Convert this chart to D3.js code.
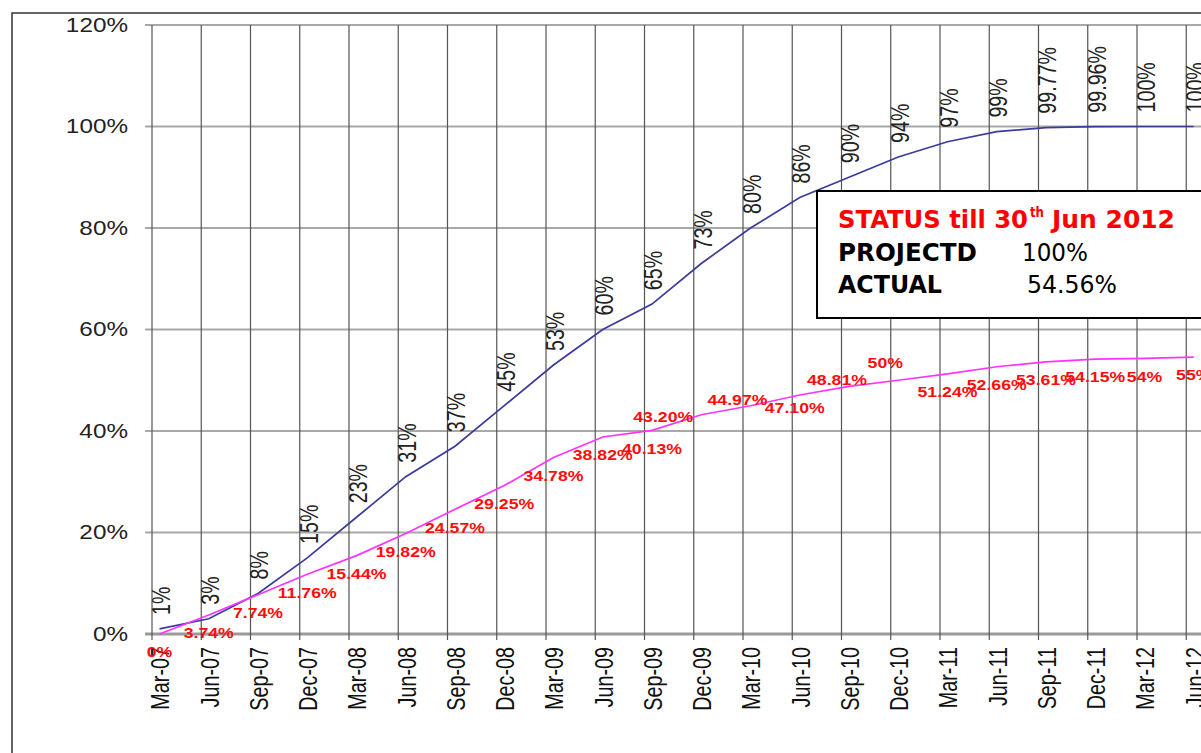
<!DOCTYPE html>
<html>
<head>
<meta charset="utf-8">
<script src="https://cdn.jsdelivr.net/npm/d3@7/dist/d3.min.js"></script>
<style>
  html, body { margin: 0; padding: 0; background: #fff; }
  svg { display: block; }
</style>
</head>
<body>
<svg id="chart" width="1201" height="753"></svg>
<script>
// ---------------- data ----------------
const categories = ["Mar-07","Jun-07","Sep-07","Dec-07","Mar-08","Jun-08","Sep-08","Dec-08",
  "Mar-09","Jun-09","Sep-09","Dec-09","Mar-10","Jun-10","Sep-10","Dec-10",
  "Mar-11","Jun-11","Sep-11","Dec-11","Mar-12","Jun-12"];
const projected = [0.01,0.03,0.08,0.15,0.23,0.31,0.37,0.45,0.53,0.60,0.65,0.73,0.80,0.86,0.90,0.94,
  0.97,0.99,0.9977,0.9996,1.00,1.00];
const projectedLabels = ["1%","3%","8%","15%","23%","31%","37%","45%","53%","60%","65%","73%","80%",
  "86%","90%","94%","97%","99%","99.77%","99.96%","100%","100%"];
const actual = [0,0.0374,0.0774,0.1176,0.1544,0.1982,0.2457,0.2925,0.3478,0.3882,0.4013,0.4320,
  0.4497,0.4710,0.4881,0.50,0.5124,0.5266,0.5361,0.5415,0.543,0.5456];
const actualLabels = ["0%","3.74%","7.74%","11.76%","15.44%","19.82%","24.57%","29.25%","34.78%",
  "38.82%","40.13%","43.20%","44.97%","47.10%","48.81%","50%","51.24%","52.66%","53.61%","54.15%",
  "54%","55%"];
const yTicks = [0,0.2,0.4,0.6,0.8,1.0,1.2];
const statusTitle = ["STATUS till 30", "th", "Jun 2012"];
const statusRows = [["PROJECTD","100%"],["ACTUAL","54.56%"]];

// ---------------- layout ----------------
const svg = d3.select("#chart");
const x = d3.scalePoint().domain(categories).range([159.5, 159.5 + 21 * 49.25]);
const y = d3.scaleLinear().domain([0, 1.2]).range([634, 25]);
const gridOffset = -7.5;
const SX = 1.24;   // horizontal glyph stretch (horizontal text)
const SXR = 1.32;  // horizontal glyph stretch (rotated text)

// label nudges for the "actual" series (default: centred below the point)
const actualNudge = {11: [-38, 2], 12: [-13, -6], 13: [-5, 13], 14: [-12, -7], 15: [-13, -17]};

// outer chart border
svg.append("rect").attr("x", 12).attr("y", 13).attr("width", 1400).attr("height", 900)
  .attr("fill", "#fff").attr("stroke", "#333").attr("stroke-width", 1.5);

// horizontal gridlines
svg.append("g").selectAll("line").data(yTicks).join("line")
  .attr("x1", 145).attr("x2", 1230)
  .attr("y1", d => y(d)).attr("y2", d => y(d))
  .attr("stroke", d => d === 0 ? "#9a9a9a" : "#a8a8a8")
  .attr("stroke-width", d => d === 0 ? 3 : 2);

// vertical gridlines
svg.append("g").selectAll("line").data(categories).join("line")
  .attr("x1", d => x(d) + gridOffset).attr("x2", d => x(d) + gridOffset)
  .attr("y1", y(1.2)).attr("y2", 640)
  .attr("stroke", "#555").attr("stroke-width", 1.2);

// y axis
const yAxis = svg.append("g").attr("transform", "translate(128,0)")
  .call(d3.axisLeft(y).tickValues(yTicks).tickFormat(d3.format(".0%")).tickSize(0).tickPadding(0));
yAxis.select(".domain").remove();
yAxis.selectAll("text")
  .attr("font-family", "Liberation Sans, Arial, sans-serif")
  .attr("font-size", 19.6).attr("fill", "#222").attr("dy", "0.33em")
  .attr("transform", `scale(${SX},1)`);

// x axis
const xAxis = svg.append("g").attr("transform", "translate(0,647)")
  .call(d3.axisBottom(x).tickSize(0).tickPadding(0));
xAxis.select(".domain").remove();
xAxis.selectAll("text")
  .attr("font-family", "Liberation Sans, Arial, sans-serif")
  .attr("font-size", 19.8).attr("fill", "#111")
  .attr("text-anchor", "end").attr("x", 0).attr("y", 0).attr("dy", "0.36em")
  .attr("transform", `scale(${SXR},1) rotate(-90)`);

// lines
const line = d3.line().x((d, i) => x(categories[i])).y(d => y(d));
svg.append("path").datum(projected).attr("d", line)
  .attr("fill", "none").attr("stroke", "#3b3b9c").attr("stroke-width", 1.7);
svg.append("path").datum(actual).attr("d", line)
  .attr("fill", "none").attr("stroke", "#ff33ff").attr("stroke-width", 1.7);

// projected labels (rotated, above the points)
svg.append("g").selectAll("text").data(projected).join("text")
  .attr("transform", (d, i) => `translate(${x(categories[i]) + 1},${y(d) - 14}) scale(${SXR},1) rotate(-90)`)
  .attr("dy", "0.36em").attr("text-anchor", "start")
  .attr("font-family", "Liberation Sans, Arial, sans-serif").attr("font-size", 19.7).attr("fill", "#222")
  .text((d, i) => projectedLabels[i]);

// actual labels (red, bold)
svg.append("g").selectAll("text").data(actual).join("text")
  .attr("transform", (d, i) => {
    const n = actualNudge[i] || [0, 18];
    return `translate(${x(categories[i]) + n[0]},${y(d) + n[1]}) scale(1.22,1)`;
  })
  .attr("dy", "0.36em").attr("text-anchor", "middle")
  .attr("font-family", "Liberation Sans, Arial, sans-serif").attr("font-weight", "bold")
  .attr("font-size", 14.5).attr("fill", "#ff0d0d")
  .text((d, i) => actualLabels[i]);

// status box
const box = svg.append("g");
box.append("rect").attr("x", 817).attr("y", 191).attr("width", 420).attr("height", 127)
  .attr("fill", "#fff").attr("stroke", "#000").attr("stroke-width", 2);
const bf = "DejaVu Sans, Verdana, sans-serif";
box.append("text").attr("x", 838).attr("y", 228).attr("font-family", bf).attr("font-weight", "bold")
  .attr("font-size", 24).attr("fill", "#ff0000")
  .attr("textLength", 190).attr("lengthAdjust", "spacingAndGlyphs").text(statusTitle[0]);
box.append("text").attr("x", 1030).attr("y", 217).attr("font-family", bf).attr("font-weight", "bold")
  .attr("font-size", 14).attr("fill", "#ff0000")
  .attr("textLength", 14).attr("lengthAdjust", "spacingAndGlyphs").text(statusTitle[1]);
box.append("text").attr("x", 1052).attr("y", 228).attr("font-family", bf).attr("font-weight", "bold")
  .attr("font-size", 24).attr("fill", "#ff0000")
  .attr("textLength", 123).attr("lengthAdjust", "spacingAndGlyphs").text(statusTitle[2]);
const rowLayout = [{y: 261, l: 139, vx: 1022, vl: 66}, {y: 293, l: 104, vx: 1027, vl: 90}];
statusRows.forEach((r, i) => {
  const L = rowLayout[i];
  box.append("text").attr("x", 838).attr("y", L.y).attr("font-family", bf).attr("font-weight", "bold")
    .attr("font-size", 24).attr("fill", "#000")
    .attr("textLength", L.l).attr("lengthAdjust", "spacingAndGlyphs").text(r[0]);
  box.append("text").attr("x", L.vx).attr("y", L.y).attr("font-family", bf)
    .attr("font-size", 24).attr("fill", "#000")
    .attr("textLength", L.vl).attr("lengthAdjust", "spacingAndGlyphs").text(r[1]);
});
</script>
</body>
</html>
